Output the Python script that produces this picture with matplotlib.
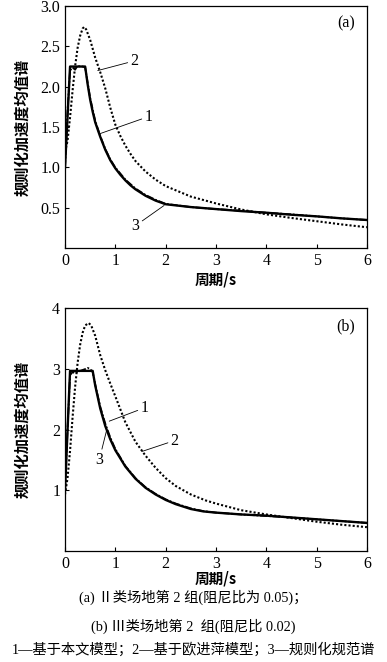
import matplotlib
matplotlib.use('Agg')
import matplotlib.pyplot as plt

plt.rcParams['font.family'] = ['Liberation Serif', 'Noto Sans CJK SC']
plt.rcParams['axes.unicode_minus'] = False

# ---- panel (a): site class II, group 2, damping 0.05 ----
a_t3 = [0, 0.1, 0.4, 0.45, 0.5, 0.55, 0.6, 0.7, 0.8, 0.9, 1.0, 1.1, 1.2, 1.3, 1.4, 1.6, 1.8, 2.0,
        2.5, 3.0, 3.5, 4.0, 4.5, 5.0, 5.5, 6.0]
a_code = [1.0, 2.25, 2.25, 2.03, 1.84, 1.69, 1.56, 1.38, 1.22, 1.09, 0.99, 0.91, 0.84, 0.78, 0.73,
          0.65, 0.59, 0.545, 0.51, 0.485, 0.46, 0.44, 0.415, 0.395, 0.37, 0.35]

a_t1 = [0, 0.05, 0.1, 0.15, 0.2, 0.25, 0.3, 0.35, 0.4, 0.5, 0.6, 0.7, 0.8, 0.9, 1.0, 1.2, 1.4, 1.6,
        1.8, 2.0, 2.5, 3.0, 3.5, 4.0, 4.5, 5.0, 5.5, 6.0]
a_model = [1.0, 1.7, 2.2, 2.24, 2.21, 2.26, 2.25, 2.25, 2.24, 1.86, 1.58, 1.39, 1.23, 1.1, 1.0, 0.85,
           0.74, 0.66, 0.6, 0.55, 0.51, 0.485, 0.465, 0.44, 0.42, 0.395, 0.37, 0.35]

a_t2 = [0, 0.05, 0.1, 0.15, 0.2, 0.25, 0.3, 0.35, 0.38, 0.42, 0.5, 0.6, 0.7, 0.8, 0.9, 1.0, 1.1, 1.2,
        1.3, 1.4, 1.6, 1.8, 2.0, 2.5, 3.0, 3.5, 4.0, 4.5, 5.0, 5.5, 6.0]
a_ou = [1.19, 1.33, 1.62, 1.95, 2.25, 2.48, 2.63, 2.72, 2.74, 2.71, 2.58, 2.36, 2.18, 1.98, 1.74, 1.53,
        1.39, 1.27, 1.17, 1.08, 0.95, 0.85, 0.77, 0.64, 0.555, 0.48, 0.42, 0.375, 0.335, 0.295, 0.26]

# ---- panel (b): site class III, group 2, damping 0.02 ----
b_t3 = [0, 0.1, 0.55, 0.6, 0.7, 0.8, 0.9, 1.0, 1.2, 1.4, 1.6, 1.8, 2.0, 2.2, 2.5, 2.75, 3.0, 3.5,
        4.0, 4.5, 5.0, 5.5, 6.0]
b_code = [1.0, 2.97, 2.97, 2.73, 2.35, 2.06, 1.84, 1.66, 1.39, 1.19, 1.04, 0.93, 0.84, 0.77, 0.69,
          0.65, 0.63, 0.6, 0.58, 0.55, 0.52, 0.49, 0.46]

b_t1 = [0, 0.05, 0.1, 0.15, 0.2, 0.3, 0.4, 0.45, 0.5, 0.55, 0.6, 0.7, 0.8, 0.9, 1.0, 1.2, 1.4, 1.6,
        1.8, 2.0, 2.2, 2.5, 2.75, 3.0, 3.5, 4.0, 4.5, 5.0, 5.5, 6.0]
b_model = [1.0, 2.0, 2.9, 2.95, 2.93, 2.97, 3.0, 3.02, 3.0, 2.95, 2.75, 2.38, 2.1, 1.87, 1.68, 1.4,
           1.2, 1.05, 0.94, 0.85, 0.78, 0.7, 0.655, 0.63, 0.6, 0.575, 0.55, 0.52, 0.49, 0.46]

b_t2 = [0, 0.05, 0.1, 0.15, 0.2, 0.25, 0.3, 0.35, 0.4, 0.47, 0.52, 0.6, 0.7, 0.8, 0.9, 1.0, 1.2, 1.4,
        1.6, 1.8, 2.0, 2.2, 2.5, 2.8, 3.0, 3.5, 4.0, 4.5, 5.0, 5.5, 6.0]
b_ou = [0.93, 1.2, 1.65, 2.2, 2.7, 3.1, 3.4, 3.6, 3.72, 3.76, 3.72, 3.55, 3.23, 2.98, 2.76, 2.55, 2.12,
        1.8, 1.57, 1.37, 1.2, 1.07, 0.93, 0.83, 0.78, 0.67, 0.6, 0.54, 0.48, 0.43, 0.39]

ylabel = '规则化加速度均值谱'
xlabel = '周期/s'
captions = ['(a) Ⅱ类场地第 2 组(阻尼比为 0.05)；',
            '(b) Ⅲ类场地第 2  组(阻尼比 0.02)',
            '1—基于本文模型；2—基于欧进萍模型；3—规则化规范谱']

fig = plt.figure(figsize=(3.87, 6.62), dpi=100)
ax_a = fig.add_axes([0.168, 0.625, 0.780, 0.366])
ax_b = fig.add_axes([0.168, 0.168, 0.780, 0.366])


def draw_panel(ax, t3, code, t1, model, t2, ou, ylim, yticks, ytl, tag, xpad):
    ax.plot(t2, ou, color='black', lw=1.5, linestyle=(0, (1, 1)))
    ax.plot(t1, model, color='black', lw=1.3, linestyle=(0, (4, 1, 1, 1)))
    ax.plot(t3, code, color='black', lw=1.7)
    ax.set_xlim(0, 6)
    ax.set_ylim(*ylim)
    ax.set_xticks(range(7))
    ax.set_yticks(yticks)
    ax.set_yticklabels(ytl)
    ax.tick_params(direction='in', labelsize=11.5, length=3, width=0.8)
    for s in ax.spines.values():
        s.set_linewidth(0.9)
    ax.set_xlabel(xlabel, family='Noto Sans CJK SC', fontsize=10.5, fontweight='bold', labelpad=xpad)
    ax.set_ylabel(ylabel, family='Noto Sans CJK SC', fontsize=11, fontweight='bold')
    ax.yaxis.set_label_coords(-0.116, 0.5)
    ax.text(0.96, 0.96, tag, transform=ax.transAxes, ha='right', va='top', fontsize=11.5)


draw_panel(ax_a, a_t3, a_code, a_t1, a_model, a_t2, a_ou, (0, 3.0),
           [0.5, 1.0, 1.5, 2.0, 2.5, 3.0], ['0.5', '1.0', '1.5', '2.0', '2.5', '3.0'], '(a)', 2)
draw_panel(ax_b, b_t3, b_code, b_t1, b_model, b_t2, b_ou, (0, 4.0),
           [1, 2, 3, 4], ['1', '2', '3', '4'], '(b)', -1)

lead = dict(arrowstyle='-', color='black', lw=0.6, shrinkA=0, shrinkB=0)
ax_a.annotate('2', xy=(0.65, 2.2), xytext=(1.3, 2.32), fontsize=11.5, va='center', ha='left',
              arrowprops=lead)
ax_a.annotate('1', xy=(0.7, 1.42), xytext=(1.58, 1.63), fontsize=11.5, va='center', ha='left',
              arrowprops=lead)
ax_a.annotate('3', xy=(1.97, 0.53), xytext=(1.48, 0.28), fontsize=11.5, va='center', ha='right',
              arrowprops=lead)

ax_b.annotate('1', xy=(0.88, 2.14), xytext=(1.5, 2.36), fontsize=11.5, va='center', ha='left',
              arrowprops=lead)
ax_b.annotate('3', xy=(0.83, 2.0), xytext=(0.68, 1.5), fontsize=11.5, va='center', ha='center',
              arrowprops=lead)
ax_b.annotate('2', xy=(1.53, 1.64), xytext=(2.1, 1.82), fontsize=11.5, va='center', ha='left',
              arrowprops=lead)

ys = [597, 626, 650]
for txt, y in zip(captions, ys):
    fig.text(0.5, 1 - y / 662, txt, ha='center', va='center', fontsize=10.3)

fig.savefig('out.png', dpi=100)
